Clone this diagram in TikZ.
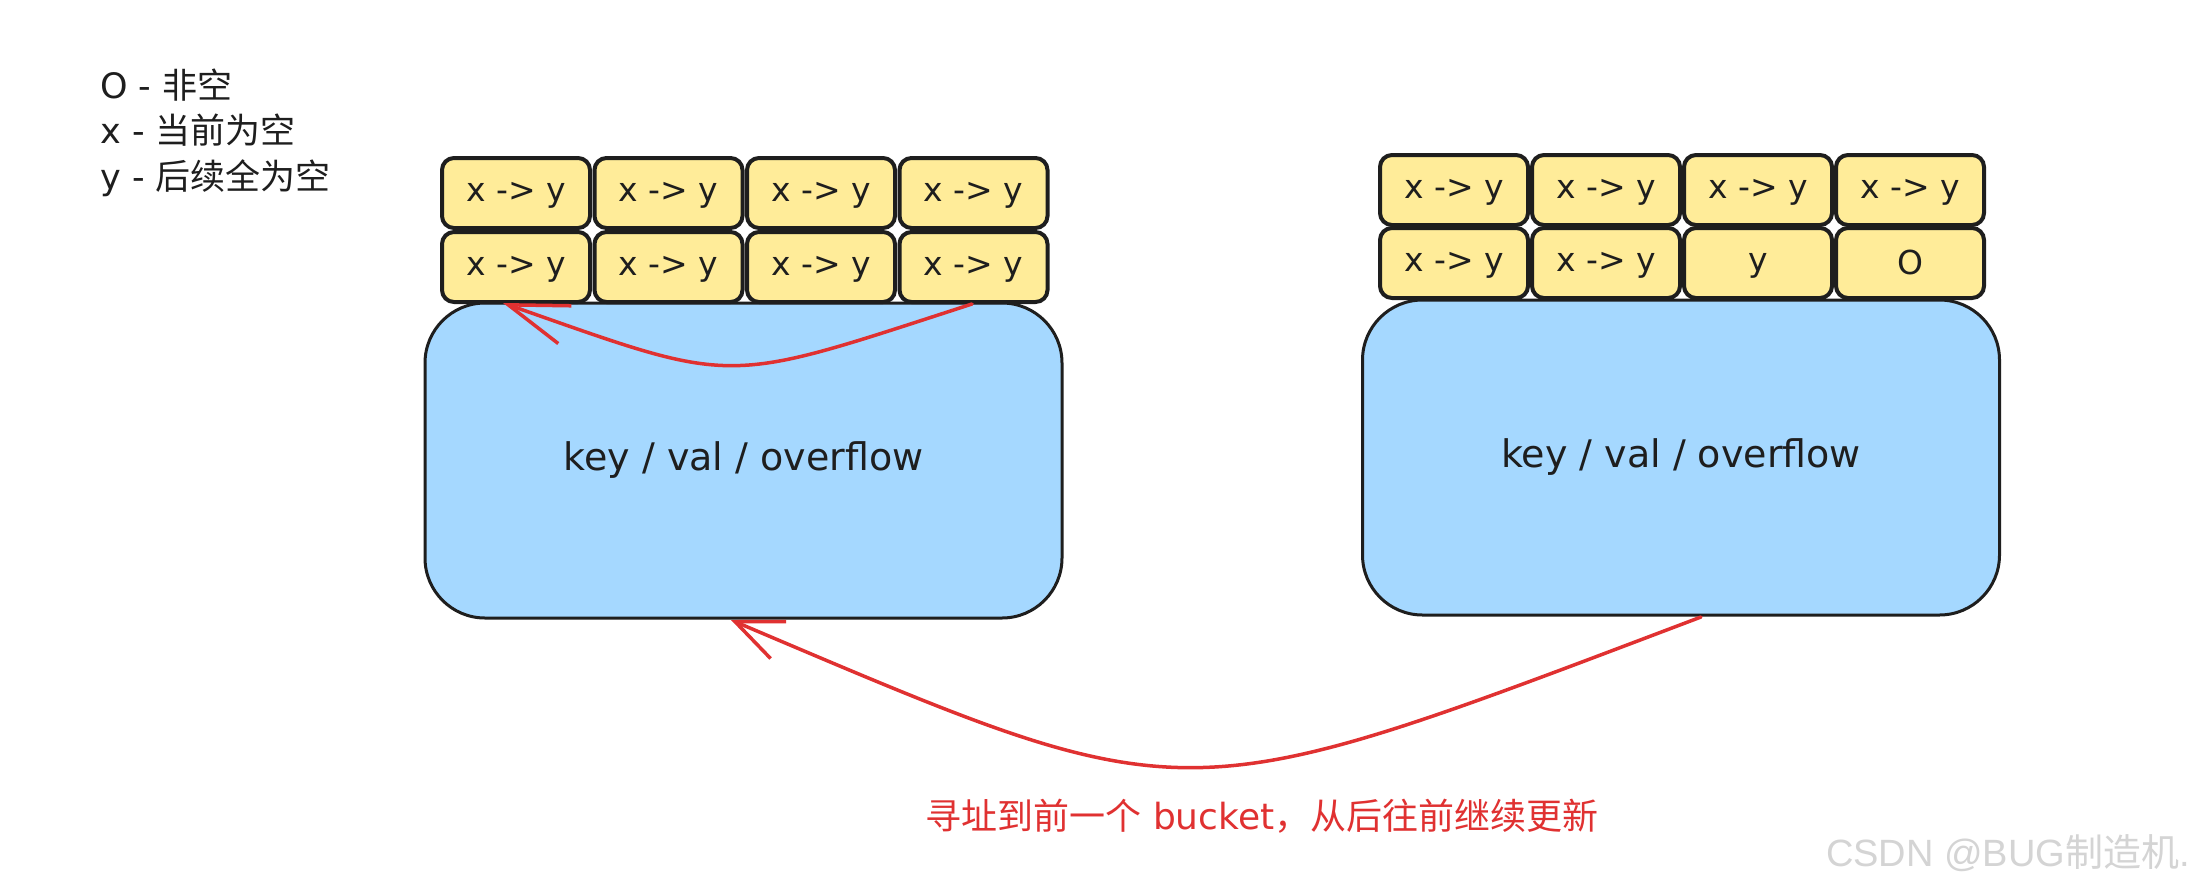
\documentclass[tikz,border=0pt]{standalone}
\usepackage{fontspec}
\setmainfont{DejaVu Sans}
\newfontfamily\cjk{Noto Sans CJK SC}
\newfontfamily\wmfont{Liberation Sans}
\usetikzlibrary{arrows.meta,calc}
\definecolor{ink}{HTML}{1E1E1E}
\definecolor{cellfill}{HTML}{FFEC99}
\definecolor{boxfill}{HTML}{A5D8FF}
\definecolor{redline}{HTML}{E03131}
\definecolor{wmgray}{HTML}{D4D4D4}
\begin{document}
\begin{tikzpicture}[x=1pt,y=-1pt,
  cell/.style={draw=ink, line width=4pt, fill=cellfill, rounded corners=12pt,
    minimum width=148pt, minimum height=70pt, inner sep=0pt, text=ink,
    text depth=2pt, font=\fontsize{33}{36}\selectfont},
  bucket/.style={draw=ink, line width=3pt, fill=boxfill, rounded corners=60pt,
    minimum width=637pt, minimum height=315pt, inner sep=0pt, text=ink,
    font=\fontsize{38}{42}\selectfont},
  legend/.style={anchor=base west, inner sep=0pt, text=ink,
    font=\fontsize{35}{38}\selectfont},
  jumpA/.style={draw=redline, line width=3.5pt, line cap=round,
    -{Straight Barb[length=60pt, width=40pt, line width=3.5pt]}},
  jumpB/.style={draw=redline, line width=3.5pt, line cap=round,
    -{Straight Barb[length=47pt, width=40pt, line width=3.5pt]}}]
\useasboundingbox[fill=white] (0,0) rectangle (2204,892);

% legend
\node[legend] (leg1) at (100,98) {O - {\cjk 非空}};
\node[legend] (leg2) at (100,143) {x - {\cjk 当前为空}};
\node[legend] (leg3) at (100,189) {y - {\cjk 后续全为空}};

% buckets
\node[bucket] (lbox) at (743.5,460.5) {key / val / overflow};
\node[bucket] (rbox) at (1681,457.5) {key / val / overflow};

% left cells
\foreach \i in {0,1,2,3} {
  \node[cell] (lt\i) at (516+152.5*\i,193) {x -> y};
  \node[cell] (lb\i) at (516+152.5*\i,267) {x -> y};
}
% right cells
\foreach \i in {0,1,2,3} {
  \node[cell] (rt\i) at (1454+152*\i,190) {x -> y};
}
\node[cell] (rb0) at (1454,263) {x -> y};
\node[cell] (rb1) at (1606,263) {x -> y};
\node[cell] (rb2) at (1758,263) {y};
\node[cell] (rb3) at (1910,263) {O};

% arrow endpoints
\coordinate (aTail) at (972,304);
\coordinate (aTip) at (503,303);
\coordinate (bTail) at (1701,617);
\coordinate (bTip) at (731,620);

\draw[jumpA] (aTail) .. controls (719,386) and (740,386) .. (aTip);
\draw[jumpB] (bTail) .. controls (1172,817) and (1196,817) .. (bTip);

% caption
\node[text=redline, font=\fontsize{36}{40}\selectfont, inner sep=0pt] (cap) at (1262,816)
  {{\cjk 寻址到前一个} bucket{\cjk ，从后往前继续更新}};

% watermark
\node[text=wmgray, font=\wmfont\fontsize{38}{42}\selectfont, anchor=east, inner sep=0pt] (wm) at (2190,853)
  {CSDN @BUG{\cjk 制造机}.};
\end{tikzpicture}
\end{document}
